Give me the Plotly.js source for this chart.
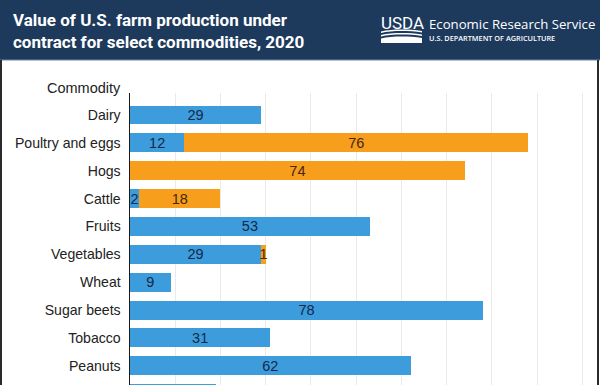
<!DOCTYPE html>
<html>
<head>
<meta charset="utf-8">
<script src="https://cdn.plot.ly/plotly-3.0.1.min.js"></script>
<style>
  html, body { margin: 0; padding: 0; background: #ffffff; }
  #chart { width: 600px; height: 385px; }
</style>
</head>
<body>
<div id="chart"></div>
<script>
// ---- Data ----
const categories = ['Dairy', 'Poultry and eggs', 'Hogs', 'Cattle', 'Fruits', 'Vegetables',
                    'Wheat', 'Sugar beets', 'Tobacco', 'Peanuts', 'Cotton'];
const marketingContracts = [29, 12, null, 2, 53, 29, 9, 78, 31, 62, 19];
const productionContracts = [null, 76, 74, 18, null, 1, null, null, null, null, null];
// the last row is cut off by the picture's lower edge; only its bar top shows
const rowLabelShown = [true, true, true, true, true, true, true, true, true, true, false];
const seriesNames = ['Marketing contracts', 'Production contracts'];
const xTickValues = [0, 10, 20, 30, 40, 50, 60, 70, 80, 90, 100];
const titleLines = ['Value of U.S. farm production under', 'contract for select commodities, 2020'];
const yAxisLabel = 'Commodity';
const agencyShort = 'USDA';
const agencyName = 'Economic Research Service';
const departmentName = 'U.S. DEPARTMENT OF AGRICULTURE';

// ---- Layout geometry helpers ----
const W = 600, H = 385, ML = 130, MR = 4, MT = 93, MB = 0;
const PW = W - ML - MR, PH = H - MT - MB;
const px = x => (x - ML) / PW;
const py = y => (H - MB - y) / PH;
const pathPx = s => s.replace(/(-?\d+\.?\d*),(-?\d+\.?\d*)/g,
  (m, a, b) => px(parseFloat(a)).toFixed(5) + ',' + py(parseFloat(b)).toFixed(5));

const BLUE = '#3d9cdc', ORANGE = '#f79e1d';
const labelText = arr => arr.map((v, i) => (v === null || !rowLabelShown[i] ? '' : String(v)));

const traces = [
  {
    type: 'bar', orientation: 'h', name: seriesNames[0],
    y: categories, x: marketingContracts,
    marker: { color: BLUE },
    text: labelText(marketingContracts),
    textposition: 'inside', insidetextanchor: 'middle', textangle: 0,
    constraintext: 'none',
    textfont: { family: 'Liberation Sans, Arial, sans-serif', size: 14.5, color: '#14284a' },
    hoverinfo: 'skip'
  },
  {
    type: 'bar', orientation: 'h', name: seriesNames[1],
    y: categories, x: productionContracts,
    marker: { color: ORANGE },
    text: labelText(productionContracts),
    textposition: 'inside', insidetextanchor: 'middle', textangle: 0,
    constraintext: 'none',
    textfont: { family: 'Liberation Sans, Arial, sans-serif', size: 14.5, color: '#46280e' },
    hoverinfo: 'skip'
  }
];

const shapes = [
  // header banner
  { type: 'rect', xref: 'paper', yref: 'paper', layer: 'above',
    x0: px(0), x1: px(600), y0: py(60), y1: py(0),
    fillcolor: '#1d3a5d', line: { width: 0 } },
  { type: 'line', xref: 'paper', yref: 'paper', layer: 'above',
    x0: px(0), x1: px(600), y0: py(60), y1: py(60),
    line: { color: '#6f89a6', width: 1 } },
  // frame sides
  { type: 'line', xref: 'paper', yref: 'paper', layer: 'above',
    x0: px(1), x1: px(1), y0: py(385), y1: py(60),
    line: { color: '#2a2a2a', width: 2 } },
  { type: 'line', xref: 'paper', yref: 'paper', layer: 'above',
    x0: px(598), x1: px(598), y0: py(385), y1: py(60),
    line: { color: '#2a2a2a', width: 2 } },
  // USDA logo swooshes
  { type: 'path', xref: 'paper', yref: 'paper', layer: 'above', line: { width: 0 }, fillcolor: '#ffffff',
    path: pathPx('M381,31.5 C392,29 408,29 422,31 L422,32.5 C408,30.5 392,30.5 381,33 Z') },
  { type: 'path', xref: 'paper', yref: 'paper', layer: 'above', line: { width: 0 }, fillcolor: '#ffffff',
    path: pathPx('M381,35 C392,32.5 408,32.5 422,34.5 L422,36 C408,34 392,34 381,36.5 Z') },
  { type: 'path', xref: 'paper', yref: 'paper', layer: 'above', line: { width: 0 }, fillcolor: '#ffffff',
    path: pathPx('M381,38.5 C392,36 408,36 422,38 L422,43 L381,43 Z') }
];

const annotations = [
  { xref: 'paper', yref: 'paper', x: px(11), y: py(20), xanchor: 'left', yanchor: 'middle',
    text: titleLines[0], showarrow: false,
    font: { family: 'Roboto, sans-serif', size: 17, color: '#ffffff', weight: 700 } },
  { xref: 'paper', yref: 'paper', x: px(11), y: py(42), xanchor: 'left', yanchor: 'middle',
    text: titleLines[1], showarrow: false,
    font: { family: 'Roboto, sans-serif', size: 17, color: '#ffffff', weight: 700 } },
  { xref: 'paper', yref: 'paper', x: px(379), y: py(23), xanchor: 'left', yanchor: 'middle',
    text: agencyShort, showarrow: false,
    font: { family: 'Roboto, sans-serif', size: 17, color: '#ffffff' } },
  { xref: 'paper', yref: 'paper', x: px(427), y: py(23.5), xanchor: 'left', yanchor: 'middle',
    text: agencyName, showarrow: false,
    font: { family: 'Open Sans, sans-serif', size: 13.2, color: '#ffffff' } },
  { xref: 'paper', yref: 'paper', x: px(427), y: py(38.5), xanchor: 'left', yanchor: 'middle',
    text: departmentName, showarrow: false,
    font: { family: 'Open Sans, sans-serif', size: 7.3, color: '#ffffff', weight: 600 } },
  { xref: 'paper', yref: 'paper', x: px(123), y: py(88), xanchor: 'right', yanchor: 'middle',
    text: yAxisLabel, showarrow: false,
    font: { family: 'Liberation Sans, Arial, sans-serif', size: 14.5, color: '#222222' } }
];

const layout = {
  width: W, height: H,
  margin: { l: ML, r: MR, t: MT, b: MB, pad: 0 },
  paper_bgcolor: '#ffffff', plot_bgcolor: '#ffffff',
  barmode: 'stack', bargap: 0.32,
  showlegend: false,
  xaxis: {
    range: [0, 103], tickvals: xTickValues, showticklabels: false,
    showgrid: true, gridcolor: '#eaeaea', gridwidth: 1,
    zeroline: false, showline: false, ticks: '', fixedrange: true
  },
  yaxis: {
    type: 'category', categoryorder: 'array', categoryarray: categories,
    range: [9.69, -0.79],
    showgrid: false, zeroline: false,
    showline: true, linecolor: '#1a1a1a', linewidth: 1.5,
    ticks: '', ticklabelstandoff: 5,
    tickfont: { family: 'Liberation Sans, Arial, sans-serif', size: 14.1, color: '#222222' },
    fixedrange: true
  },
  shapes: shapes,
  annotations: annotations,
  uniformtext: { mode: false }
};

Plotly.newPlot('chart', traces, layout, { staticPlot: true, displayModeBar: false });
</script>
</body>
</html>
